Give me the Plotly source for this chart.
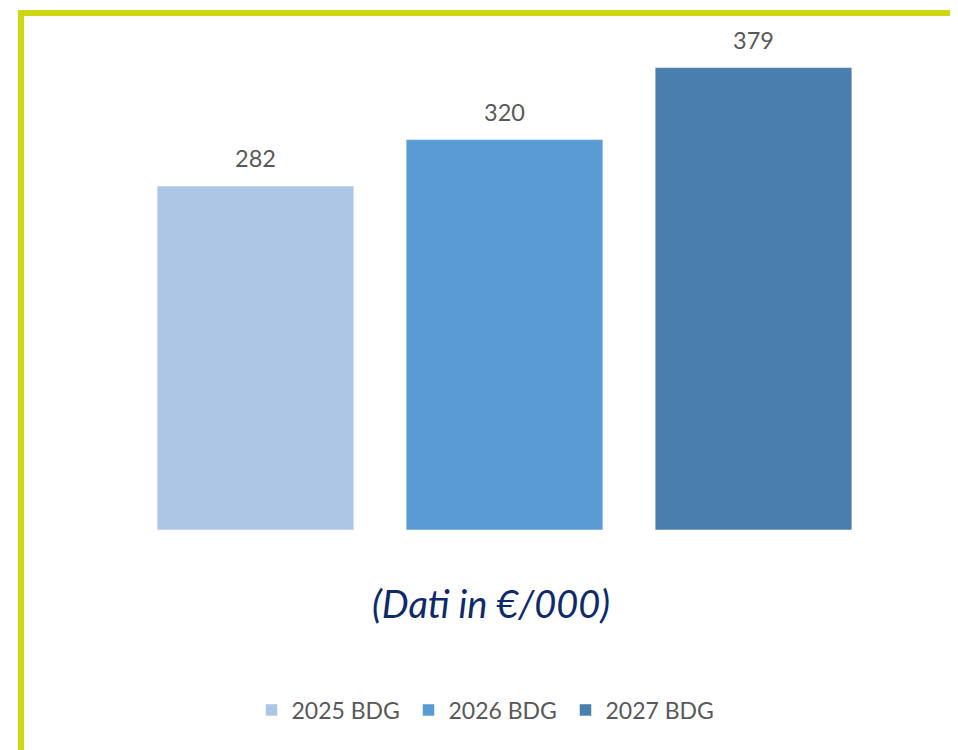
import plotly.graph_objects as go

categories = ["2025 BDG", "2026 BDG", "2027 BDG"]
values = [282, 320, 379]
colors = ["#ADC6E6", "#5B9BD5", "#4A7EAD"]
note_text = "(Dati in €/000)"

W, H = 958, 750
OFF = 8  # page body margin offset
L, R, T, B = 131 - OFF, 80 + OFF, 42 - OFF, 220 + OFF
pw, ph = W - L - R, H - T - B

def px_x(x):
    return (x - OFF - L) / pw

def px_y(y):
    return (H - B - (y - OFF)) / ph

fig = go.Figure()
for cat, val, col in zip(categories, values, colors):
    fig.add_trace(go.Bar(
        x=[cat], y=[val], name=cat,
        marker=dict(color=col, line=dict(color="rgba(255,255,255,0.5)", width=1)),
        hoverinfo="skip",
    ))
    fig.add_annotation(
        x=cat, y=val, text=str(val), showarrow=False,
        yanchor="bottom", yshift=12,
        font=dict(family="Lato, Open Sans, sans-serif", size=23.5, color="#595959"),
    )

fig.add_annotation(
    xref="paper", yref="paper", x=px_x(491), y=px_y(603),
    text=f"<i>{note_text}</i>", showarrow=False,
    xanchor="center", yanchor="middle",
    font=dict(family="Lato, Open Sans, sans-serif", size=38, color="#0E2A6B"),
)

# lime frame (top and left edges)
x0, y0 = px_x(21), px_y(13)
fig.add_shape(
    type="path", xref="paper", yref="paper",
    path=f"M {x0},{px_y(770)} L {x0},{y0} L {px_x(980)},{y0}",
    line=dict(color="#CDD714", width=6),
)

fig.update_layout(
    width=W, height=H,
    margin=dict(l=L, r=R, t=T, b=B, autoexpand=False),
    paper_bgcolor="white", plot_bgcolor="white",
    barmode="overlay", bargap=0.21,
    showlegend=True,
    legend=dict(
        orientation="h", xanchor="center", x=px_x(487),
        yanchor="middle", y=px_y(710),
        entrywidth=112, entrywidthmode="pixels",
        font=dict(family="Lato, Open Sans, sans-serif", size=23, color="#595959"),
        itemclick=False, itemdoubleclick=False,
    ),
    xaxis=dict(visible=False, range=[-0.5, 2.5]),
    yaxis=dict(visible=False, range=[0, 400]),
)

fig.write_html("out.html")
